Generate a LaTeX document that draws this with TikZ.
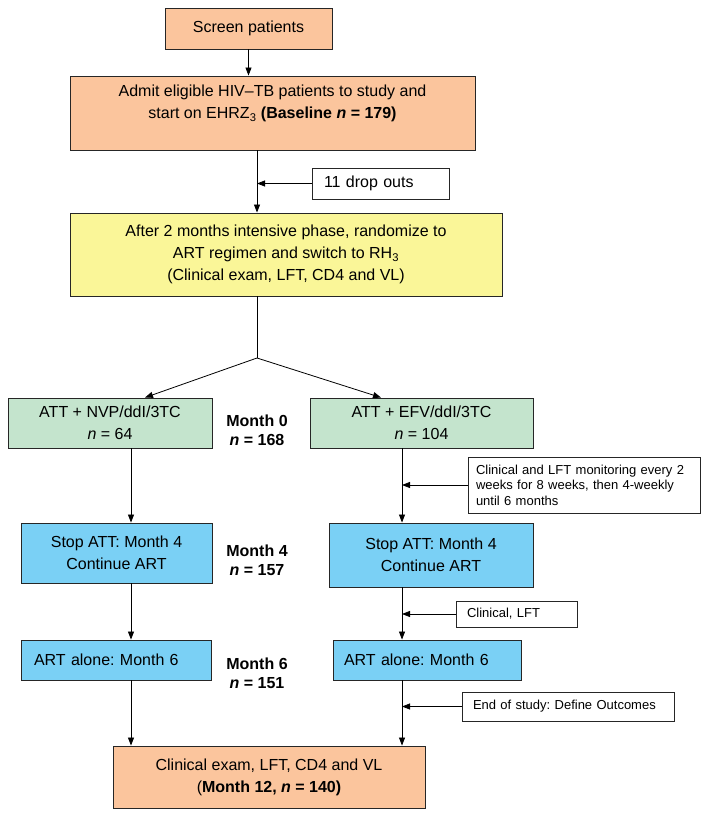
\documentclass[tikz,border=0pt]{standalone}
\usepackage{fontspec}
\setmainfont{Liberation Sans}
\usetikzlibrary{arrows.meta}
\definecolor{peach}{RGB}{251,197,157}
\definecolor{lyellow}{RGB}{250,246,152}
\definecolor{lgreen}{RGB}{196,228,205}
\definecolor{lblue}{RGB}{122,208,245}
\frenchspacing
\begin{document}
\begin{tikzpicture}[x=1pt,y=-1pt,
  box/.style={draw=black!85, line width=0.9pt, inner sep=0pt, align=center,
    font=\fontsize{16}{22}\selectfont\frenchspacing},
  lbox/.style={draw=black!85, line width=0.9pt, inner ysep=0pt, align=left,
    font=\fontsize{16}{22}\selectfont\frenchspacing},
  side/.style={draw=black!85, line width=0.9pt, fill=white, inner ysep=0pt, align=left,
    font=\fontsize{13}{15.5}\selectfont\frenchspacing},
  arr/.style={-{Triangle[length=8pt,width=6pt]}, line width=0.8pt},
  ln/.style={line width=0.8pt},
  lab/.style={font=\fontsize{16}{19}\selectfont\bfseries, align=center, inner sep=0pt}]
\useasboundingbox[fill=white] (0,0) rectangle (704,818);

\node[box, fill=peach, minimum width=167pt, minimum height=41pt] (screen) at (248.5,28.5) {Screen patients};
\node[box, fill=peach, minimum width=405pt, minimum height=74pt] (admit) at (272.5,113)
  {Admit eligible HIV--TB patients to study and\\start on EHRZ\textsubscript{3} \textbf{(Baseline \textit{n} = 179)}\\\mbox{}};
\node[lbox, fill=white, minimum width=137pt, text width=113pt, inner xsep=12pt, minimum height=31pt] (drop) at (380.5,183.5) {11 drop outs};
\node[box, fill=lyellow, minimum width=432pt, minimum height=83pt] (yellow) at (286,254.5)
  {After 2 months intensive phase, randomize to\\ART regimen and switch to RH\textsubscript{3}\\(Clinical exam, LFT, CD4 and VL)};

\node[box, fill=lgreen, minimum width=204pt, minimum height=50pt] (gl) at (110,423) {ATT + NVP/ddI/3TC\\\textit{n} = 64};
\node[box, fill=lgreen, minimum width=223pt, minimum height=50pt] (gr) at (421.5,423) {ATT + EFV/ddI/3TC\\\textit{n} = 104};
\node[lab] (m0) at (257,430) {Month 0\\\textit{n} = 168};

\node[side, minimum width=232pt, text width=216pt, inner xsep=8pt, minimum height=56pt] (mon) at (584,485)
  {\mbox{Clinical and LFT monitoring every 2}\\\mbox{weeks for 8 weeks, then 4-weekly}\\until 6 months};

\node[box, fill=lblue, minimum width=191pt, minimum height=60pt] (bl1) at (116.5,553) {Stop ATT: Month 4\\Continue ART};
\node[box, fill=lblue, minimum width=204pt, minimum height=64pt] (br1) at (431,555) {Stop ATT: Month 4\\Continue ART};
\node[lab] (m4) at (257,560) {Month 4\\\textit{n} = 157};

\node[side, minimum width=121pt, text width=99pt, inner xsep=11pt, minimum height=26pt] (clin) at (516.5,614) {Clinical, LFT};

\node[lbox, fill=lblue, minimum width=190pt, text width=164pt, inner xsep=13pt, minimum height=40pt] (bl2) at (116,660) {ART alone: Month 6};
\node[lbox, fill=lblue, minimum width=188pt, text width=166pt, inner xsep=11pt, minimum height=40pt] (br2) at (427,660) {ART alone: Month 6};
\node[lab] (m6) at (257,673) {Month 6\\\textit{n} = 151};

\node[side, minimum width=212pt, text width=190pt, inner xsep=11pt, minimum height=29pt] (eos) at (568,706.5) {End of study: Define Outcomes};

\node[box, fill=peach, minimum width=312pt, minimum height=62pt] (bot) at (269,777)
  {Clinical exam, LFT, CD4 and VL\\(\textbf{Month 12, \textit{n} = 140)}};

\coordinate (cA) at (257,0);
\coordinate (cL) at (131,0);
\coordinate (cR) at (402,0);
\coordinate (tL) at (145,0);
\coordinate (tR) at (381,0);
\coordinate (split) at (257,358);

\draw[arr] (screen.south) -- (screen.south |- admit.north);
\draw[arr] (cA |- admit.south) -- (cA |- yellow.north);
\draw[arr] (drop.west) -- (cA |- drop.west);
\draw[ln] (cA |- yellow.south) -- (split);
\draw[arr] (split) -- (tL |- gl.north);
\draw[arr] (split) -- (tR |- gr.north);

\draw[arr] (cL |- gl.south) -- (cL |- bl1.north);
\draw[arr] (cL |- bl1.south) -- (cL |- bl2.north);
\draw[arr] (cL |- bl2.south) -- (cL |- bot.north);

\draw[arr] (cR |- gr.south) -- (cR |- br1.north);
\draw[arr] (cR |- br1.south) -- (cR |- br2.north);
\draw[arr] (cR |- br2.south) -- (cR |- bot.north);

\draw[arr] (mon.west) -- (cR |- mon.west);
\draw[arr] (clin.west) -- (cR |- clin.west);
\draw[arr] (eos.west) -- (cR |- eos.west);
\end{tikzpicture}
\end{document}
